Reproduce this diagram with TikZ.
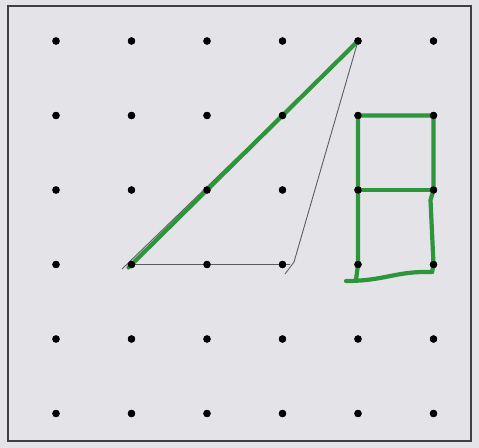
\documentclass[tikz,border=0pt]{standalone}
\usepackage{tikz}

\definecolor{paper}{RGB}{228,227,232}
\definecolor{pen}{RGB}{46,150,58}
\definecolor{pencil}{RGB}{90,90,95}

\tikzset{
  dot/.style={circle,fill=black,inner sep=0pt,minimum size=4.2pt},
  frame/.style={draw=black!75,line width=1.1pt},
  pencilline/.style={draw=pencil,line width=0.5pt},
  greenpen/.style={draw=pen,line width=2.4pt,line cap=round,line join=round}
}

\begin{document}
\begin{tikzpicture}[x=0.02cm,y=-0.02cm]
        % Papel e moldura
        \fill[paper] (0,0) rectangle (479,448);
        \draw[frame] (8,6) rectangle (471,441);

        % Pontos da malha
        \foreach \i in {0,...,5}
          \foreach \j in {0,...,5}
            \node[dot] (d\i\j) at ({56+75.5*\i},{41+74.5*\j}) {};

        % Extremos soltos
        \coordinate (tail) at (122,269);
        \coordinate (bend) at (294,262);
        \coordinate (hook) at (285,274);
        \coordinate (lbot) at (356,280);
        \coordinate (lend) at (346,281);
        \coordinate (rbot) at (432,272);

        % Triangulo a lapis
        \draw[pencilline] (tail) -- (d40.center) -- (bend) -- (hook);
        \draw[pencilline] (d13.center) -- ([xshift=4pt]d33.center);

        % Lado verde
        \draw[greenpen] ([shift={(-3,3)}]d13.center) -- (d40.center);

        % Retangulo verde
        \draw[greenpen] (d41.center) -- (d51.center) -- (d52.center)
            -- ++(-3,10) -- (d53.center) -- (rbot);
        \draw[greenpen] (d41.center) -- (d42.center) -- (d43.center) -- (lbot);
        \draw[greenpen] (d42.center) -- (d52.center);
        \draw[greenpen] (lend) .. controls (385,281) and (395,271) .. (rbot);

        % Pontos por cima
        \foreach \i in {0,...,5}
          \foreach \j in {0,...,5}
            \fill ({56+75.5*\i},{41+74.5*\j}) circle (2.1pt);
\end{tikzpicture}
\end{document}
